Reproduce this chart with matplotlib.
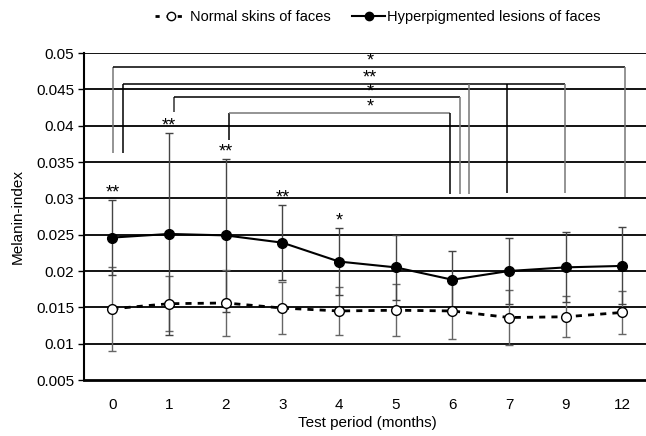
import matplotlib
matplotlib.use("Agg")
import matplotlib.pyplot as plt
from matplotlib.lines import Line2D

plt.rcParams['font.family'] = ['Liberation Sans', 'DejaVu Sans']

months = ['0', '1', '2', '3', '4', '5', '6', '7', '9', '12']
hyper = [0.0246, 0.0251, 0.0249, 0.0239, 0.0213, 0.0205, 0.0188, 0.0200, 0.0205, 0.0207]
hyper_sd = [0.0052, 0.0139, 0.0105, 0.0052, 0.0046, 0.0045, 0.0039, 0.0046, 0.0048, 0.0053]
normal = [0.0148, 0.0155, 0.0156, 0.0149, 0.0145, 0.0146, 0.0145, 0.0136, 0.0137, 0.0143]
normal_sd = [0.0058, 0.0038, 0.0045, 0.0036, 0.0033, 0.0036, 0.0039, 0.0038, 0.0028, 0.0030]
point_stars = ['**', '**', '**', '**', '*']
yticks = [0.005, 0.01, 0.015, 0.02, 0.025, 0.03, 0.035, 0.04, 0.045, 0.05]
ytick_labels = ['0.005', '0.01', '0.015', '0.02', '0.025', '0.03', '0.035', '0.04', '0.045', '0.05']

# significance brackets: (left x, left-leg bottom, top, [(right x, bottom, colour)], label, colours)
brackets = [
    (0.02, 0.0362, 0.0481, [(9.04, 0.0302, '#777777')], '*', ('#777777', 'black')),
    (0.19, 0.0362, 0.0458, [(6.30, 0.0306, '#777777'), (6.97, 0.0307, 'black'),
                            (7.98, 0.0308, '#777777')], '**', ('black', 'black')),
    (1.09, 0.0419, 0.0439, [(6.14, 0.0306, '#777777')], '*', ('#333333', 'black')),
    (2.05, 0.0380, 0.0418, [(5.96, 0.0306, 'black')], '*', ('black', '#777777')),
]

fig = plt.figure(figsize=(6.46, 4.36), dpi=100)
ax = fig.add_axes([84 / 646, 1 - 380 / 436, 566.7 / 646, 327 / 436])

x = list(range(len(months)))

ax.set_ylim(0.005, 0.05)
ax.set_xlim(-0.5, len(months) - 0.5)
for v in yticks[1:]:
    ax.axhline(v, color='black', lw=1.3, zorder=1)

ax.errorbar(x, normal, yerr=normal_sd, fmt='none', ecolor='#666666', elinewidth=1.0,
            capsize=3, capthick=1.0, zorder=2)
ax.errorbar(x, hyper, yerr=hyper_sd, fmt='none', ecolor='#444444', elinewidth=1.0,
            capsize=3, capthick=1.0, zorder=2)

ax.plot(x, normal, color='black', lw=2.0, ls=(0, (2.2, 2.2)), marker='o', ms=7,
        mfc='white', mec='black', mew=1.0, zorder=4)
ax.plot(x, hyper, color='black', lw=1.5, marker='o', ms=7, mfc='black', mec='black',
        zorder=4)

for i, s in enumerate(point_stars):
    ax.annotate(s, (x[i], hyper[i] + hyper_sd[i]), xytext=(0, 5),
                textcoords='offset points', ha='center', va='center', fontsize=13)

star_x = 4.55
for lx, lb, top, rights, label, cols in brackets:
    ax.plot([lx, lx], [lb, top], color=cols[0], lw=1.1, zorder=3, solid_capstyle='butt')
    rmax = max(r[0] for r in rights)
    ax.plot([lx, rmax], [top, top], color=cols[1], lw=1.1, zorder=3, solid_capstyle='butt')
    for rx, rb, rc in rights:
        ax.plot([rx, rx], [rb, top], color=rc, lw=1.1, zorder=3, solid_capstyle='butt')
    ax.annotate(label, (star_x, top), xytext=(0, 4), textcoords='offset points',
                ha='center', va='center', fontsize=13)

ax.set_xticks(x)
ax.set_xticklabels(months, fontsize=11)
ax.tick_params(axis='x', length=0, pad=13)
ax.set_yticks(yticks)
ax.set_yticklabels(ytick_labels, fontsize=11)
ax.tick_params(axis='y', length=4, width=1, direction='out', pad=3)

ax.spines['top'].set_visible(False)
ax.spines['right'].set_visible(False)
ax.spines['left'].set_linewidth(1.5)
ax.spines['bottom'].set_linewidth(2.0)

ax.set_xlabel('Test period (months)', fontsize=11, labelpad=3)
ax.set_ylabel('Melanin-index', fontsize=11, labelpad=8)

handles = [
    Line2D([], [], color='black', lw=2.0, ls=(0, (1.5, 2.5)), marker='o', ms=6,
           mfc='white', mec='black'),
    Line2D([], [], color='black', lw=1.5, marker='o', ms=6, mfc='black', mec='black'),
]
fig.legend(handles, ['Normal skins of faces', 'Hyperpigmented lesions of faces'],
           loc='center', bbox_to_anchor=(0.585, 1 - 17 / 436), ncol=2, frameon=False,
           fontsize=10.5, handlelength=2.2, handletextpad=0.2, columnspacing=1.5)

fig.savefig('out.png', dpi=100)
